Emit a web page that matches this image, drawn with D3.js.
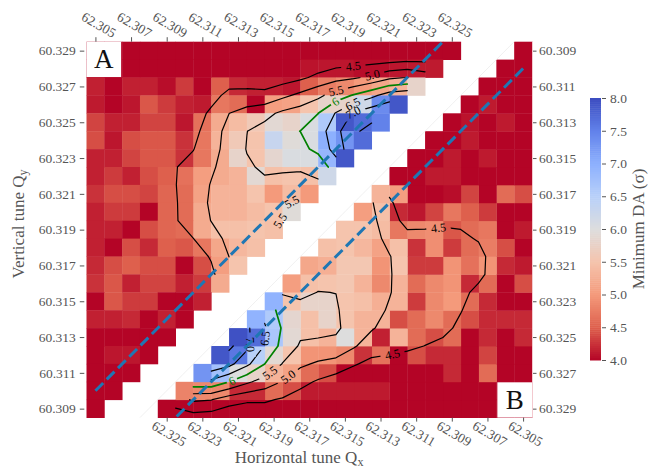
<!DOCTYPE html>
<html>
<head>
<meta charset="utf-8">
<script src="https://cdn.jsdelivr.net/npm/d3@7"></script>
<style>
  body { margin: 0; background: #fff; }
  text { font-family: "Liberation Serif", "DejaVu Serif", serif; }
</style>
</head>
<body>
<svg id="chart" width="659" height="470"></svg>
<script>
// tune grid: row i -> Qy = 60.329 - 0.001 i, column j -> Qx = 62.305 + 0.001 j
const qxTicks = [62.305, 62.307, 62.309, 62.311, 62.313, 62.315, 62.317, 62.319, 62.321, 62.323, 62.325]
const qyTicks = [60.309, 60.311, 60.313, 60.315, 60.317, 60.319, 60.321, 60.323, 60.325, 60.327, 60.329]
const daTicks = [4.0, 4.5, 5.0, 5.5, 6.0, 6.5, 7.0, 7.5, 8.0]
const levels = [4.5, 5.0, 5.5, 6.0, 6.5, 7.0, 7.5]

// panel A: minimum DA, upper-left triangle
const daA = [
  [4.0,4.0,4.0,4.0,4.0,4.0,4.0,4.0,4.0,4.0,4.0,4.0,4.0,4.0,4.0,4.0,4.0,4.0,4.0,4.0,4.0],
  [4.0,4.0,4.0,4.0,4.0,4.0,4.0,4.0,4.0,4.0,4.0,4.0,4.08,4.1,4.1,4.05,4.05,4.1,4.12,4.12],
  [4.15,4.0,4.15,4.15,4.05,4.3,4.0,4.5,4.2,4.15,4.15,4.1,4.5,4.75,4.85,5.0,5.15,5.3,5.8],
  [4.12,4.0,4.1,4.45,4.3,4.15,4.12,4.7,4.6,4.0,5.05,5.1,5.5,5.8,5.8,6.2,7.4,7.9],
  [4.35,4.15,4.15,4.35,4.35,4.1,4.65,5.2,5.4,5.6,5.9,5.8,6.05,6.6,7.9,7.7,7.5],
  [4.4,4.1,4.4,4.45,4.45,4.25,4.7,5.3,5.6,5.5,6.3,5.95,6.05,7.0,7.3,7.7],
  [4.15,4.15,4.35,4.45,4.45,4.25,4.7,5.2,5.8,5.5,5.85,6.05,6.05,6.9,7.9],
  [4.15,4.3,4.15,4.4,4.5,4.65,5.05,5.2,5.3,5.9,5.45,5.5,5.45,6.2],
  [4.25,4.4,4.4,4.35,4.55,4.6,5.1,5.3,5.3,5.5,5.0,5.4,5.0],
  [4.15,4.3,4.3,4.0,4.55,4.6,5.2,5.3,5.3,5.4,5.5,5.95],
  [4.15,4.15,4.0,4.4,4.55,4.6,5.2,5.45,5.45,5.5,5.45],
  [4.15,4.0,4.4,4.2,4.5,4.45,4.7,5.15,5.35,5.45],
  [4.2,4.4,4.5,4.4,4.4,4.0,4.4,5.05,5.5],
  [4.25,4.45,4.15,4.35,4.35,4.15,4.3,5.2],
  [4.0,4.45,4.3,4.3,4.0,4.0,4.15],
  [4.15,4.15,4.2,4.0,4.15,4.0],
  [4.0,4.0,4.0,4.0,4.0],
  [4.0,4.1,4.1,4.0],
  [4.0,4.0,4.0],
  [4.0,4.0],
  [4.0]
]

// panel B: same tune grid, drawn rotated in the lower-right triangle
const daB = [
  [4.0,4.0,4.0,4.0,4.0,4.0,4.0,4.0,4.0,4.0,4.0,4.0,4.0,4.0,4.0,4.0,4.0,4.0,4.0,4.0,4.0],
  [4.0,4.0,4.0,4.0,4.0,4.0,4.0,4.0,4.12,4.12,4.12,4.12,4.12,4.4,4.6,4.2,4.2,4.85,4.85,4.8],
  [4.0,4.0,4.6,4.0,4.2,4.0,4.0,4.0,4.0,4.0,4.0,4.4,4.6,5.1,5.3,5.8,6.0,6.75,7.3],
  [4.0,4.0,4.35,4.0,4.2,4.2,4.4,4.0,4.65,4.25,4.85,4.95,4.95,5.5,5.9,6.5,7.6,7.9],
  [4.2,4.0,4.2,4.0,4.6,4.4,4.6,5.3,4.15,5.3,6.0,5.3,5.45,5.9,6.65,7.7,7.95],
  [4.2,4.2,4.2,4.4,4.6,4.85,4.6,4.4,5.3,5.3,5.5,5.8,5.45,5.85,6.6,6.95],
  [4.0,4.0,4.2,4.6,5.0,4.85,4.3,5.3,5.25,5.45,5.5,5.8,5.8,5.5,6.95],
  [4.4,4.0,4.6,4.2,4.95,4.85,4.6,5.3,4.85,5.3,5.55,5.5,5.45,5.05],
  [4.12,4.2,4.95,4.65,4.95,4.3,4.3,5.5,4.95,5.55,5.55,5.25,5.15],
  [4.0,4.4,4.75,4.6,4.3,4.9,4.25,5.45,5.1,5.35,5.5,5.45],
  [4.12,4.0,4.7,4.6,4.45,4.9,4.85,4.7,5.4,5.5,5.5],
  [4.0,4.0,4.3,4.5,4.7,4.35,4.1,4.2,5.45,5.05],
  [4.4,4.6,4.0,4.35,4.05,4.0,4.0,5.05,5.3],
  [4.0,4.0,4.0,4.0,4.12,4.12,4.0,4.0],
  [4.0,4.0,4.12,4.0,4.12,4.0,4.0],
  [4.0,4.0,4.0,4.12,4.0,4.0],
  [4.0,4.12,4.0,4.08,4.0],
  [4.0,4.0,4.12,4.0],
  [4.0,4.0,4.0],
  [4.0,4.0],
  [4.0]
]

// where the contour labels sit (level, Qx, Qy)
const labelsA = [[4.5, 62.3195, 60.3279], [5.0, 62.3206, 60.3274], [5.5, 62.3185, 60.3268],
  [6.0, 62.3185, 60.3261], [6.5, 62.3195, 60.3259], [7.0, 62.3195, 60.3255],
  [5.5, 62.3160, 60.3206], [5.5, 62.3142, 60.3184]]
const labelsB = [[4.5, 62.3096, 60.3202], [4.5, 62.3125, 60.3251], [5.0, 62.3185, 60.3268],
  [5.5, 62.3195, 60.3266], [6.0, 62.3216, 60.3268], [6.5, 62.3185, 60.3252],
  [7.0, 62.3197, 60.3254], [7.5, 62.3197, 60.3243]]

const step = 0.001, qx0 = 62.305, qy0 = 60.329
const off = step / 2 // contours were computed on the cell corners

const svg = d3.select("#chart")
const pL = 86.5, pR = 532, pT = 41.7, pB = 417.6

const xA = d3.scaleLinear().domain([62.3045, 62.3295]).range([pL, pR])
const yA = d3.scaleLinear().domain([60.3295, 60.3085]).range([pT, pB])
const xB = d3.scaleLinear().domain([62.3295, 62.3045]).range([pL, pR])
const yB = d3.scaleLinear().domain([60.3085, 60.3295]).range([pT, pB])

// coolwarm, reversed: red = low DA, blue = high DA
const color = d3.scaleLinear()
  .domain([4, 4.5, 5, 5.5, 6, 6.5, 7, 7.5, 8])
  .range(["#b40426", "#de604d", "#f49a7b", "#f5c4ad", "#dddddd", "#b8d0f9", "#8db0fe", "#6282ea", "#3b4cc0"])
  .clamp(true)

const grey = "#555"

const panels = [
  { name: "A", data: daA, x: xA, y: yA, labels: labelsA },
  { name: "B", data: daB, x: xB, y: yB, labels: labelsB },
]

// ---- cells
panels.forEach((p) => {
  const cells = []
  p.data.forEach((row, i) => row.forEach((v, j) => {
    if (v == null) return
    const qx = qx0 + step * j, qy = qy0 - step * i
    const xa = p.x(qx - step / 2), xb = p.x(qx + step / 2)
    const ya = p.y(qy + step / 2), yb = p.y(qy - step / 2)
    cells.push({ v, x: Math.min(xa, xb), y: Math.min(ya, yb), w: Math.abs(xb - xa), h: Math.abs(yb - ya) })
  }))
  svg.append("g")
    .selectAll("rect")
    .data(cells)
    .join("rect")
    .attr("x", (d) => d.x)
    .attr("y", (d) => d.y)
    .attr("width", (d) => d.w + 0.4)
    .attr("height", (d) => d.h + 0.4)
    .attr("fill", (d) => color(d.v))
})

// faint diagonal between the two triangles
svg.append("line")
  .attr("x1", xA(62.3045 + 0.003)).attr("y1", yA(60.3085))
  .attr("x2", xA(62.3045 + 0.024)).attr("y2", yA(60.3295))
  .attr("stroke", "#ececec").attr("stroke-width", 0.8)

// ---- contours: light 3x3 smoothing, then marching squares (masked cells skipped)
function smooth(data) {
  const w = [[1, 2, 1], [2, 4, 2], [1, 2, 1]]
  return d3.range(21).map((i) => d3.range(21).map((j) => {
    if (data[i][j] == null) return null
    let s = 0, ws = 0
    for (let di = -1; di <= 1; di++) {
      for (let dj = -1; dj <= 1; dj++) {
        const v = data[i + di] ? data[i + di][j + dj] : null
        if (v == null) continue
        s += w[di + 1][dj + 1] * v
        ws += w[di + 1][dj + 1]
      }
    }
    return s / ws
  }))
}

function contourSegments(data, level, xs, ys) {
  const n = 21
  const val = (i, j) => (data[i] && data[i][j] != null ? data[i][j] : null)
  const segs = []
  const toPx = (pt) => [xs(qx0 + step * pt[0] + off), ys(qy0 - step * pt[1] + off)]
  for (let i = 0; i < n - 1; i++) {
    for (let j = 0; j < n - 1; j++) {
      const V = [val(i, j), val(i, j + 1), val(i + 1, j + 1), val(i + 1, j)]
      if (V.some((v) => v == null)) continue
      const P = [[j, i], [j + 1, i], [j + 1, i + 1], [j, i + 1]]
      const hi = V.map((v) => (v > level ? 1 : 0))
      const cr = []
      for (let k = 0; k < 4; k++) {
        const k2 = (k + 1) % 4
        if (hi[k] !== hi[k2]) {
          const t = (level - V[k]) / (V[k2] - V[k])
          cr.push([P[k][0] + t * (P[k2][0] - P[k][0]), P[k][1] + t * (P[k2][1] - P[k][1])])
        }
      }
      if (cr.length === 2) segs.push([toPx(cr[0]), toPx(cr[1])])
      else if (cr.length === 4) {
        const avg = d3.mean(V)
        if ((avg > level) === (hi[0] === 1)) {
          segs.push([toPx(cr[0]), toPx(cr[1])], [toPx(cr[2]), toPx(cr[3])])
        } else {
          segs.push([toPx(cr[0]), toPx(cr[3])], [toPx(cr[1]), toPx(cr[2])])
        }
      }
    }
  }
  return segs
}

function nearestOn(segs, px, py) {
  let best = null, bd = Infinity
  segs.forEach(([a, b]) => {
    const dx = b[0] - a[0], dy = b[1] - a[1]
    const L2 = dx * dx + dy * dy || 1
    let t = ((px - a[0]) * dx + (py - a[1]) * dy) / L2
    t = Math.max(0, Math.min(1, t))
    const x = a[0] + t * dx, y = a[1] + t * dy
    const d = Math.hypot(x - px, y - py)
    if (d < bd) { bd = d; best = { x, y, d, ang: (Math.atan2(dy, dx) * 180) / Math.PI } }
  })
  if (best) {
    if (best.ang > 90) best.ang -= 180
    if (best.ang < -90) best.ang += 180
  }
  return best
}

const fmt = (lv) => (lv === 6 ? "6" : lv.toFixed(1))
const labelSpots = []
const lineSets = []

panels.forEach((p) => {
  const sm = smooth(p.data)
  levels.forEach((lv) => {
    const segs = contourSegments(sm, lv, p.x, p.y)
    lineSets.push({ lv, segs })
    p.labels.filter((l) => l[0] === lv).forEach((l) => {
      const spot = nearestOn(segs, p.x(l[1]), p.y(l[2]))
      if (spot && spot.d < 30) labelSpots.push({ lv, ...spot })
    })
  })
})

const defs = svg.append("defs")
const mask = defs.append("mask").attr("id", "label-gap").attr("maskUnits", "userSpaceOnUse")
  .attr("x", 0).attr("y", 0).attr("width", 659).attr("height", 470)
mask.append("rect").attr("width", 659).attr("height", 470).attr("fill", "white")
mask.selectAll("rect.gap")
  .data(labelSpots)
  .join("rect")
  .attr("class", "gap")
  .attr("x", (d) => -fmt(d.lv).length * 3.4 - 2)
  .attr("y", -5)
  .attr("width", (d) => fmt(d.lv).length * 6.8 + 4)
  .attr("height", 10)
  .attr("transform", (d) => `translate(${d.x},${d.y}) rotate(${d.ang})`)
  .attr("fill", "black")

const lineG = svg.append("g").attr("mask", "url(#label-gap)")
lineG.selectAll("path")
  .data(lineSets)
  .join("path")
  .attr("fill", "none")
  .attr("stroke", (d) => (d.lv === 6 ? "#008000" : "#000"))
  .attr("stroke-width", (d) => (d.lv === 6 ? 1.7 : 1.2))
  .attr("stroke-linecap", "round")
  .attr("d", (d) => d.segs.map(([a, b]) => `M${a[0]},${a[1]}L${b[0]},${b[1]}`).join(""))

svg.append("g")
  .selectAll("text")
  .data(labelSpots)
  .join("text")
  .attr("transform", (d) => `translate(${d.x},${d.y}) rotate(${d.ang})`)
  .attr("text-anchor", "middle")
  .attr("dy", "0.35em")
  .attr("font-size", 12)
  .attr("fill", (d) => (d.lv === 6 ? "#008000" : "#000"))
  .text((d) => fmt(d.lv))

// ---- resonance lines Qx - Qy = 1.995 in both panels
panels.forEach((p) => {
  svg.append("line")
    .attr("x1", p.x(62.305)).attr("y1", p.y(60.310))
    .attr("x2", p.x(62.3245)).attr("y2", p.y(60.3295))
    .attr("stroke", "#1f77b4")
    .attr("stroke-width", 3)
    .attr("stroke-dasharray", "11,5")
})

// ---- panel tags
function tag(name, x0, y0, x1, y1) {
  svg.append("rect").attr("x", x0).attr("y", y0).attr("width", x1 - x0).attr("height", y1 - y0).attr("fill", "white")
  svg.append("text").attr("x", (x0 + x1) / 2).attr("y", y1 - 9).attr("text-anchor", "middle")
    .attr("font-size", 27).attr("fill", "#111").text(name)
}
tag("A", xA(62.3045), yA(60.3295), xA(62.3065) - 1, yA(60.3275) - 0.5)
tag("B", xB(62.3065) + 1, yB(60.3275) + 0.5, xB(62.3045), yB(60.3295))

// ---- axes
function styleAxis(g) {
  g.select(".domain").remove()
  g.selectAll(".tick line").attr("stroke", grey)
  g.selectAll(".tick text").attr("fill", grey).attr("font-size", 13.5)
    .attr("font-family", "Liberation Serif, DejaVu Serif, serif")
}

const fmt3 = d3.format(".3f")

svg.append("g").attr("transform", `translate(0,${pT})`)
  .call(d3.axisTop(xA).tickValues(qxTicks).tickFormat(fmt3).tickSize(4.5))
  .call(styleAxis)
  .call((g) => g.selectAll(".tick text").attr("y", 0).attr("dy", "0.35em")
    .attr("text-anchor", "middle").attr("transform", "translate(3,-17) rotate(30)"))

svg.append("g").attr("transform", `translate(0,${pB})`)
  .call(d3.axisBottom(xB).tickValues(qxTicks).tickFormat(fmt3).tickSize(4))
  .call(styleAxis)
  .call((g) => g.selectAll(".tick text").attr("y", 0).attr("dy", "0.35em")
    .attr("text-anchor", "middle").attr("transform", "translate(2,16) rotate(30)"))

svg.append("g").attr("transform", `translate(${pL - 2.2},0)`)
  .call(d3.axisLeft(yA).tickValues(qyTicks).tickFormat(fmt3).tickSize(4.5).tickPadding(4))
  .call(styleAxis)

svg.append("g").attr("transform", `translate(${pR},0)`)
  .call(d3.axisRight(yB).tickValues(qyTicks).tickFormat(fmt3).tickSize(4.5).tickPadding(2.5))
  .call(styleAxis)

// right edge line
svg.append("line").attr("x1", pR + 0.5).attr("x2", pR + 0.5).attr("y1", pT).attr("y2", pB)
  .attr("stroke", "#f3c9cf").attr("stroke-width", 1)

// ---- axis titles
const xt = svg.append("text").attr("x", 299).attr("y", 463).attr("text-anchor", "middle")
  .attr("font-size", 17).attr("fill", grey)
xt.append("tspan").text("Horizontal tune Q")
xt.append("tspan").attr("font-size", 12).attr("dy", 3).text("x")

const yt = svg.append("text").attr("transform", "translate(24,224) rotate(-90)").attr("text-anchor", "middle")
  .attr("font-size", 17).attr("fill", grey)
yt.append("tspan").text("Vertical tune Q")
yt.append("tspan").attr("font-size", 12).attr("dy", 3).text("y")

// ---- colorbar
const cbX = 590, cbW = 11
const cbY = d3.scaleLinear().domain([4, 8]).range([360, 98])
const cbSteps = d3.range(4, 8, 4 / 128)
svg.append("g")
  .selectAll("rect")
  .data(cbSteps)
  .join("rect")
  .attr("x", cbX)
  .attr("width", cbW)
  .attr("y", (d) => cbY(d + 4 / 128))
  .attr("height", (d) => cbY(d) - cbY(d + 4 / 128) + 0.5)
  .attr("fill", (d) => color(d + 2 / 128))

svg.append("g").attr("transform", `translate(${cbX + cbW + 1},0)`)
  .call(d3.axisRight(cbY).tickValues(daTicks).tickFormat(d3.format(".1f")).tickSize(4).tickPadding(4))
  .call(styleAxis)

svg.append("text").attr("transform", "translate(644,229) rotate(-90)").attr("text-anchor", "middle")
  .attr("font-size", 17).attr("fill", grey).text("Minimum DA (σ)")
</script>
</body>
</html>
